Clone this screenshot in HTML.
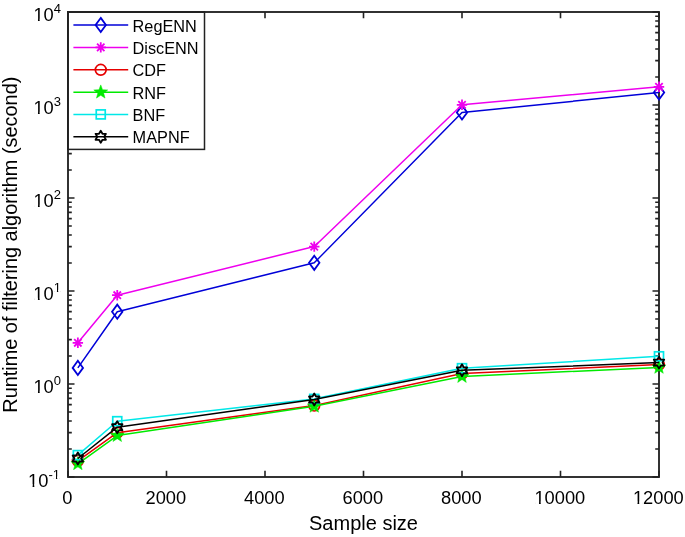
<!DOCTYPE html>
<html><head><meta charset="utf-8"><style>
html,body{margin:0;padding:0;background:#fff;width:685px;height:537px;overflow:hidden}
svg{display:block;will-change:transform}
text{font-family:"Liberation Sans",sans-serif}
</style></head><body>
<svg width="685" height="537" viewBox="0 0 685 537">
<path d="M68.00 477.00V470.70M68.00 12.00V18.30M166.50 477.00V470.70M166.50 12.00V18.30M265.00 477.00V470.70M265.00 12.00V18.30M363.50 477.00V470.70M363.50 12.00V18.30M462.00 477.00V470.70M462.00 12.00V18.30M560.50 477.00V470.70M560.50 12.00V18.30M659.00 477.00V470.70M659.00 12.00V18.30M68.00 477.00H74.50M659.00 477.00H652.50M68.00 449.00H71.80M659.00 449.00H655.20M68.00 432.63H71.80M659.00 432.63H655.20M68.00 421.01H71.80M659.00 421.01H655.20M68.00 412.00H71.80M659.00 412.00H655.20M68.00 404.63H71.80M659.00 404.63H655.20M68.00 398.41H71.80M659.00 398.41H655.20M68.00 393.01H71.80M659.00 393.01H655.20M68.00 388.26H71.80M659.00 388.26H655.20M68.00 384.00H74.50M659.00 384.00H652.50M68.00 356.00H71.80M659.00 356.00H655.20M68.00 339.63H71.80M659.00 339.63H655.20M68.00 328.01H71.80M659.00 328.01H655.20M68.00 319.00H71.80M659.00 319.00H655.20M68.00 311.63H71.80M659.00 311.63H655.20M68.00 305.41H71.80M659.00 305.41H655.20M68.00 300.01H71.80M659.00 300.01H655.20M68.00 295.26H71.80M659.00 295.26H655.20M68.00 291.00H74.50M659.00 291.00H652.50M68.00 263.00H71.80M659.00 263.00H655.20M68.00 246.63H71.80M659.00 246.63H655.20M68.00 235.01H71.80M659.00 235.01H655.20M68.00 226.00H71.80M659.00 226.00H655.20M68.00 218.63H71.80M659.00 218.63H655.20M68.00 212.41H71.80M659.00 212.41H655.20M68.00 207.01H71.80M659.00 207.01H655.20M68.00 202.26H71.80M659.00 202.26H655.20M68.00 198.00H74.50M659.00 198.00H652.50M68.00 170.00H71.80M659.00 170.00H655.20M68.00 153.63H71.80M659.00 153.63H655.20M68.00 142.01H71.80M659.00 142.01H655.20M68.00 133.00H71.80M659.00 133.00H655.20M68.00 125.63H71.80M659.00 125.63H655.20M68.00 119.41H71.80M659.00 119.41H655.20M68.00 114.01H71.80M659.00 114.01H655.20M68.00 109.26H71.80M659.00 109.26H655.20M68.00 105.00H74.50M659.00 105.00H652.50M68.00 77.00H71.80M659.00 77.00H655.20M68.00 60.63H71.80M659.00 60.63H655.20M68.00 49.01H71.80M659.00 49.01H655.20M68.00 40.00H71.80M659.00 40.00H655.20M68.00 32.63H71.80M659.00 32.63H655.20M68.00 26.41H71.80M659.00 26.41H655.20M68.00 21.01H71.80M659.00 21.01H655.20M68.00 16.26H71.80M659.00 16.26H655.20M68.00 12.00H74.50M659.00 12.00H652.50" stroke="#222222" stroke-width="1.6" fill="none"/>
<rect x="68.0" y="12.0" width="591.0" height="465.0" fill="none" stroke="#222222" stroke-width="1.85"/>
<g font-family="Liberation Sans" font-size="18.3" fill="#000">
<text x="62.31" y="504.2">0</text>
<text x="145.54" y="504.2">2000</text>
<text x="244.04" y="504.2">4000</text>
<text x="342.54" y="504.2">6000</text>
<text x="441.04" y="504.2">8000</text>
<text x="534.46" y="504.2">10000</text>
<text x="632.96" y="504.2">12000</text>
</g>
<g font-family="Liberation Sans" fill="#000">
<text x="28.05" y="486.90" font-size="18.3">10<tspan font-size="13.0" dy="-8.2">-1</tspan></text>
<text x="33.41" y="393.40" font-size="18.3">10<tspan font-size="13.0" dy="-8.4">0</tspan></text>
<text x="33.37" y="300.40" font-size="18.3">10<tspan font-size="13.0" dy="-8.4">1</tspan></text>
<text x="33.41" y="207.40" font-size="18.3">10<tspan font-size="13.0" dy="-8.4">2</tspan></text>
<text x="33.41" y="114.40" font-size="18.3">10<tspan font-size="13.0" dy="-8.4">3</tspan></text>
<text x="33.41" y="21.40" font-size="18.3">10<tspan font-size="13.0" dy="-8.4">4</tspan></text>
</g>
<g fill="#fff"><rect x="535.35" y="501.63" width="3.66" height="3.37"/><rect x="540.73" y="501.63" width="3.61" height="3.37"/><rect x="633.85" y="501.63" width="3.66" height="3.37"/><rect x="639.23" y="501.63" width="3.61" height="3.37"/><rect x="28.94" y="484.33" width="3.66" height="3.37"/><rect x="34.31" y="484.33" width="3.61" height="3.37"/><rect x="53.36" y="476.53" width="2.58" height="2.97"/><rect x="57.20" y="476.53" width="2.56" height="2.97"/><rect x="34.31" y="390.83" width="3.66" height="3.37"/><rect x="39.68" y="390.83" width="3.61" height="3.37"/><rect x="34.27" y="297.83" width="3.66" height="3.37"/><rect x="39.64" y="297.83" width="3.61" height="3.37"/><rect x="54.36" y="289.83" width="2.58" height="2.97"/><rect x="58.20" y="289.83" width="2.56" height="2.97"/><rect x="34.31" y="204.83" width="3.66" height="3.37"/><rect x="39.68" y="204.83" width="3.61" height="3.37"/><rect x="34.31" y="111.83" width="3.66" height="3.37"/><rect x="39.68" y="111.83" width="3.61" height="3.37"/><rect x="34.31" y="18.83" width="3.66" height="3.37"/><rect x="39.68" y="18.83" width="3.61" height="3.37"/></g>
<text x="363.50" y="529.5" font-family="Liberation Sans" font-size="20" text-anchor="middle">Sample size</text>
<text transform="translate(16.55 244.70) rotate(-90)" x="0" y="0" font-family="Liberation Sans" font-size="19.9" text-anchor="middle">Runtime of filtering algorithm (second)</text>
<polyline points="77.85,367.90 117.25,311.70 314.25,262.80 462.00,112.50 659.00,92.50" fill="none" stroke="#0000d8" stroke-width="1.5" stroke-linejoin="round"/>
<path d="M77.85 360.80L83.05 367.90L77.85 375.00L72.65 367.90Z" fill="none" stroke="#0000d8" stroke-width="1.8" stroke-linejoin="miter"/>
<path d="M117.25 304.60L122.45 311.70L117.25 318.80L112.05 311.70Z" fill="none" stroke="#0000d8" stroke-width="1.8" stroke-linejoin="miter"/>
<path d="M314.25 255.70L319.45 262.80L314.25 269.90L309.05 262.80Z" fill="none" stroke="#0000d8" stroke-width="1.8" stroke-linejoin="miter"/>
<path d="M462.00 105.40L467.20 112.50L462.00 119.60L456.80 112.50Z" fill="none" stroke="#0000d8" stroke-width="1.8" stroke-linejoin="miter"/>
<path d="M659.00 85.40L664.20 92.50L659.00 99.60L653.80 92.50Z" fill="none" stroke="#0000d8" stroke-width="1.8" stroke-linejoin="miter"/>
<polyline points="77.85,342.80 117.25,295.20 314.25,246.60 462.00,104.80 659.00,86.80" fill="none" stroke="#ee00ee" stroke-width="1.5" stroke-linejoin="round"/>
<path d="M77.85 337.60V348.00M72.65 342.80H83.05M74.15 339.10L81.55 346.50M74.15 346.50L81.55 339.10" fill="none" stroke="#ee00ee" stroke-width="1.8"/>
<path d="M117.25 290.00V300.40M112.05 295.20H122.45M113.55 291.50L120.95 298.90M113.55 298.90L120.95 291.50" fill="none" stroke="#ee00ee" stroke-width="1.8"/>
<path d="M314.25 241.40V251.80M309.05 246.60H319.45M310.55 242.90L317.95 250.30M310.55 250.30L317.95 242.90" fill="none" stroke="#ee00ee" stroke-width="1.8"/>
<path d="M462.00 99.60V110.00M456.80 104.80H467.20M458.30 101.10L465.70 108.50M458.30 108.50L465.70 101.10" fill="none" stroke="#ee00ee" stroke-width="1.8"/>
<path d="M659.00 81.60V92.00M653.80 86.80H664.20M655.30 83.10L662.70 90.50M655.30 90.50L662.70 83.10" fill="none" stroke="#ee00ee" stroke-width="1.8"/>
<polyline points="77.85,460.90 117.25,432.70 314.25,405.60 462.00,373.60 659.00,364.60" fill="none" stroke="#e60000" stroke-width="1.5" stroke-linejoin="round"/>
<circle cx="77.85" cy="460.90" r="5.4" fill="none" stroke="#e60000" stroke-width="1.7"/>
<circle cx="117.25" cy="432.70" r="5.4" fill="none" stroke="#e60000" stroke-width="1.7"/>
<circle cx="314.25" cy="405.60" r="5.4" fill="none" stroke="#e60000" stroke-width="1.7"/>
<circle cx="462.00" cy="373.60" r="5.4" fill="none" stroke="#e60000" stroke-width="1.7"/>
<circle cx="659.00" cy="364.60" r="5.4" fill="none" stroke="#e60000" stroke-width="1.7"/>
<polyline points="77.85,463.80 117.25,435.60 314.25,406.30 462.00,376.50 659.00,367.40" fill="none" stroke="#00ea00" stroke-width="1.5" stroke-linejoin="round"/>
<polygon points="77.85,456.50 79.65,461.32 84.79,461.54 80.77,464.75 82.14,469.71 77.85,466.87 73.56,469.71 74.93,464.75 70.91,461.54 76.05,461.32" fill="#00ea00" stroke="#00ea00" stroke-width="0.5" stroke-linejoin="round"/>
<polygon points="117.25,428.30 119.05,433.12 124.19,433.34 120.17,436.55 121.54,441.51 117.25,438.67 112.96,441.51 114.33,436.55 110.31,433.34 115.45,433.12" fill="#00ea00" stroke="#00ea00" stroke-width="0.5" stroke-linejoin="round"/>
<polygon points="314.25,399.00 316.05,403.82 321.19,404.04 317.17,407.25 318.54,412.21 314.25,409.37 309.96,412.21 311.33,407.25 307.31,404.04 312.45,403.82" fill="#00ea00" stroke="#00ea00" stroke-width="0.5" stroke-linejoin="round"/>
<polygon points="462.00,369.20 463.80,374.02 468.94,374.24 464.92,377.45 466.29,382.41 462.00,379.57 457.71,382.41 459.08,377.45 455.06,374.24 460.20,374.02" fill="#00ea00" stroke="#00ea00" stroke-width="0.5" stroke-linejoin="round"/>
<polygon points="659.00,360.10 660.80,364.92 665.94,365.14 661.92,368.35 663.29,373.31 659.00,370.47 654.71,373.31 656.08,368.35 652.06,365.14 657.20,364.92" fill="#00ea00" stroke="#00ea00" stroke-width="0.5" stroke-linejoin="round"/>
<polyline points="77.85,455.10 117.25,421.20 314.25,398.90 462.00,368.20 659.00,356.30" fill="none" stroke="#00e8e8" stroke-width="1.5" stroke-linejoin="round"/>
<rect x="73.35" y="450.60" width="9.00" height="9.00" fill="none" stroke="#00e8e8" stroke-width="1.7"/>
<rect x="112.75" y="416.70" width="9.00" height="9.00" fill="none" stroke="#00e8e8" stroke-width="1.7"/>
<rect x="309.75" y="394.40" width="9.00" height="9.00" fill="none" stroke="#00e8e8" stroke-width="1.7"/>
<rect x="457.50" y="363.70" width="9.00" height="9.00" fill="none" stroke="#00e8e8" stroke-width="1.7"/>
<rect x="654.50" y="351.80" width="9.00" height="9.00" fill="none" stroke="#00e8e8" stroke-width="1.7"/>
<polyline points="77.85,458.50 117.25,427.20 314.25,399.50 462.00,370.30 659.00,362.60" fill="none" stroke="#000000" stroke-width="1.5" stroke-linejoin="round"/>
<polygon points="77.85,452.50 79.58,455.50 83.05,455.50 81.31,458.50 83.05,461.50 79.58,461.50 77.85,464.50 76.12,461.50 72.65,461.50 74.39,458.50 72.65,455.50 76.12,455.50" fill="none" stroke="#000000" stroke-width="1.8" stroke-linejoin="round"/>
<polygon points="117.25,421.20 118.98,424.20 122.45,424.20 120.71,427.20 122.45,430.20 118.98,430.20 117.25,433.20 115.52,430.20 112.05,430.20 113.79,427.20 112.05,424.20 115.52,424.20" fill="none" stroke="#000000" stroke-width="1.8" stroke-linejoin="round"/>
<polygon points="314.25,393.50 315.98,396.50 319.45,396.50 317.71,399.50 319.45,402.50 315.98,402.50 314.25,405.50 312.52,402.50 309.05,402.50 310.79,399.50 309.05,396.50 312.52,396.50" fill="none" stroke="#000000" stroke-width="1.8" stroke-linejoin="round"/>
<polygon points="462.00,364.30 463.73,367.30 467.20,367.30 465.46,370.30 467.20,373.30 463.73,373.30 462.00,376.30 460.27,373.30 456.80,373.30 458.54,370.30 456.80,367.30 460.27,367.30" fill="none" stroke="#000000" stroke-width="1.8" stroke-linejoin="round"/>
<polygon points="659.00,356.60 660.73,359.60 664.20,359.60 662.46,362.60 664.20,365.60 660.73,365.60 659.00,368.60 657.27,365.60 653.80,365.60 655.54,362.60 653.80,359.60 657.27,359.60" fill="none" stroke="#000000" stroke-width="1.8" stroke-linejoin="round"/>
<rect x="68.0" y="12.0" width="136.5" height="137.4" fill="#fff" stroke="#222222" stroke-width="1.5"/>
<path d="M68.0 149.4V12.0H204.5" fill="none" stroke="#222222" stroke-width="1.85"/>
<line  x1="73.4" y1="25.0" x2="128.2" y2="25.0" stroke="#0000d8" stroke-width="1.5"/>
<path d="M100.75 17.90L105.95 25.00L100.75 32.10L95.55 25.00Z" fill="none" stroke="#0000d8" stroke-width="1.8" stroke-linejoin="miter"/>
<text x="132.6" y="31.60" font-family="Liberation Sans" font-size="16.3" fill="#000">RegENN</text>
<line  x1="73.4" y1="47.4" x2="128.2" y2="47.4" stroke="#ee00ee" stroke-width="1.5"/>
<path d="M100.75 42.20V52.60M95.55 47.40H105.95M97.05 43.70L104.45 51.10M97.05 51.10L104.45 43.70" fill="none" stroke="#ee00ee" stroke-width="1.8"/>
<text x="132.6" y="54.00" font-family="Liberation Sans" font-size="16.3" fill="#000">DiscENN</text>
<line  x1="73.4" y1="69.8" x2="128.2" y2="69.8" stroke="#e60000" stroke-width="1.5"/>
<circle cx="100.75" cy="69.80" r="5.4" fill="none" stroke="#e60000" stroke-width="1.7"/>
<text x="132.6" y="76.40" font-family="Liberation Sans" font-size="16.3" fill="#000">CDF</text>
<line  x1="73.4" y1="92.2" x2="128.2" y2="92.2" stroke="#00ea00" stroke-width="1.5"/>
<polygon points="100.75,84.90 102.55,89.72 107.69,89.94 103.67,93.15 105.04,98.11 100.75,95.27 96.46,98.11 97.83,93.15 93.81,89.94 98.95,89.72" fill="#00ea00" stroke="#00ea00" stroke-width="0.5" stroke-linejoin="round"/>
<text x="132.6" y="98.80" font-family="Liberation Sans" font-size="16.3" fill="#000">RNF</text>
<line  x1="73.4" y1="114.4" x2="128.2" y2="114.4" stroke="#00e8e8" stroke-width="1.5"/>
<rect x="96.25" y="109.90" width="9.00" height="9.00" fill="none" stroke="#00e8e8" stroke-width="1.7"/>
<text x="132.6" y="121.00" font-family="Liberation Sans" font-size="16.3" fill="#000">BNF</text>
<line  x1="73.4" y1="136.8" x2="128.2" y2="136.8" stroke="#000000" stroke-width="1.5"/>
<polygon points="100.75,130.80 102.48,133.80 105.95,133.80 104.21,136.80 105.95,139.80 102.48,139.80 100.75,142.80 99.02,139.80 95.55,139.80 97.29,136.80 95.55,133.80 99.02,133.80" fill="none" stroke="#000000" stroke-width="1.8" stroke-linejoin="round"/>
<text x="132.6" y="143.40" font-family="Liberation Sans" font-size="16.3" fill="#000">MAPNF</text>
</svg>
</body></html>
